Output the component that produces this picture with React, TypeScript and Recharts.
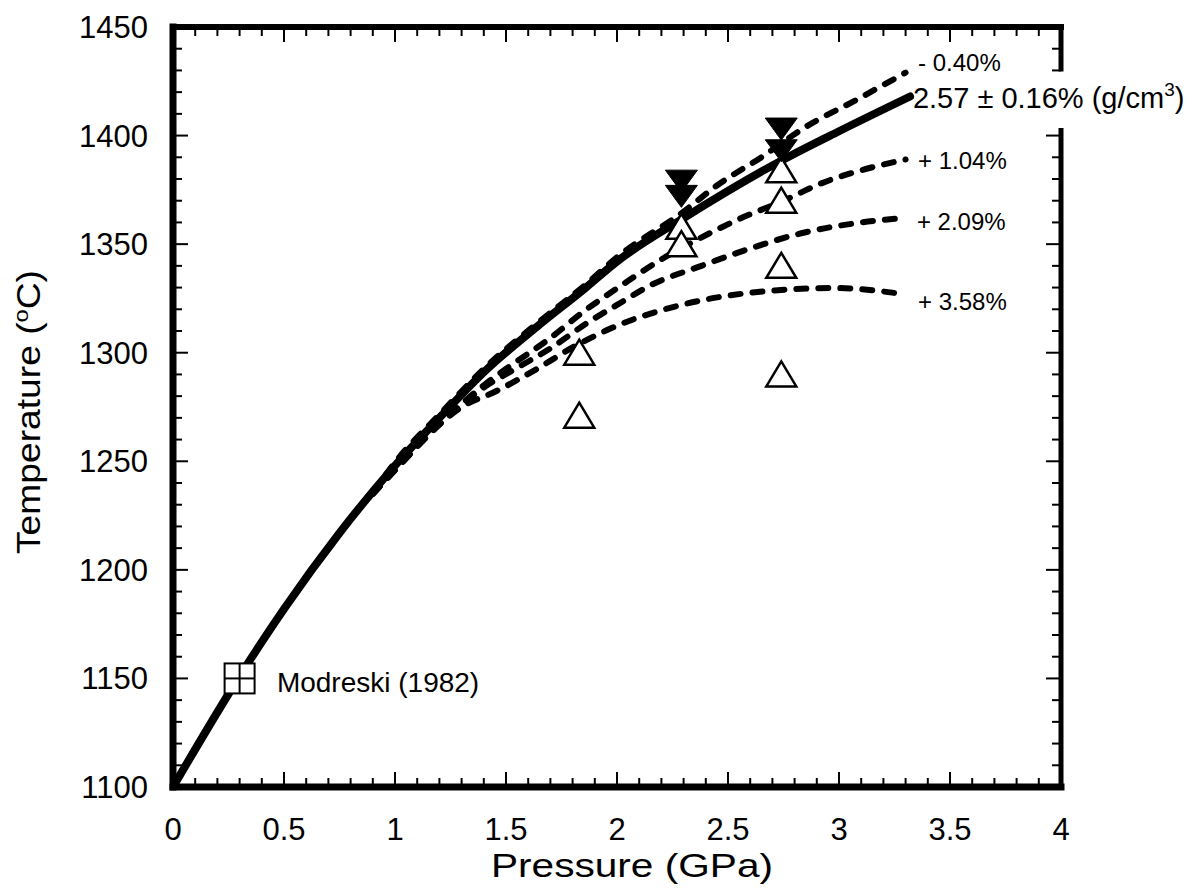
import React from 'react';
import { ComposedChart, Line, Scatter, XAxis, YAxis, ReferenceLine, ReferenceDot } from 'recharts';

const FONT = '"Liberation Sans", Arial, Helvetica, sans-serif';

// ---- tick values ----
const xMajorTicks = [0, 0.5, 1, 1.5, 2, 2.5, 3, 3.5, 4];
const xTicks = [0, 0.1, 0.2, 0.3, 0.4, 0.5, 0.6, 0.7, 0.8, 0.9, 1, 1.1, 1.2, 1.3, 1.4, 1.5, 1.6, 1.7, 1.8, 1.9, 2,
  2.1, 2.2, 2.3, 2.4, 2.5, 2.6, 2.7, 2.8, 2.9, 3, 3.1, 3.2, 3.3, 3.4, 3.5, 3.6, 3.7, 3.8, 3.9, 4];
const yMajorTicks = [1100, 1150, 1200, 1250, 1300, 1350, 1400, 1450];
const yTicks = [1100, 1110, 1120, 1130, 1140, 1150, 1160, 1170, 1180, 1190, 1200, 1210, 1220, 1230, 1240, 1250,
  1260, 1270, 1280, 1290, 1300, 1310, 1320, 1330, 1340, 1350, 1360, 1370, 1380, 1390, 1400, 1410, 1420, 1430, 1440, 1450];
const rightHiddenTicks = [1410, 1420];

// ---- curves (pressure GPa, temperature C) ----
const solidP = [0, 0.3, 0.5, 0.75, 1.0, 1.2, 1.41, 1.64, 1.86, 2.0, 2.3, 2.75, 3.0, 3.32];
const solidT = [1100, 1151, 1182, 1217, 1248, 1270, 1292, 1312, 1330, 1342, 1362, 1389, 1402, 1418];

const minus040P = [0.9, 1.0, 1.2, 1.41, 1.64, 1.86, 2.0, 2.3, 2.45, 2.65, 2.85, 3.07, 3.3];
const minus040T = [1235.5, 1249.5, 1271.5, 1293.5, 1313.5, 1331.5, 1344, 1365, 1377, 1390, 1404, 1416, 1429];

const plus104P = [0.9, 1.0, 1.2, 1.4, 1.52, 1.69, 1.85, 2.02, 2.2, 2.36, 2.56, 2.75, 2.92, 3.1, 3.3];
const plus104T = [1235, 1246, 1267, 1285, 1294, 1306, 1319, 1331, 1343, 1352, 1362, 1370, 1378, 1384, 1389];

const plus209P = [0.9, 1.0, 1.2, 1.4, 1.55, 1.7, 1.87, 2.0, 2.15, 2.38, 2.6, 2.83, 3.1, 3.29];
const plus209T = [1235, 1246, 1267, 1284, 1293, 1302, 1314, 1322, 1331, 1340, 1348, 1355, 1360, 1362];

const plus358P = [0.9, 1.0, 1.2, 1.3, 1.45, 1.63, 1.81, 1.99, 2.29, 2.59, 2.98, 3.29];
const plus358T = [1235, 1246, 1267, 1275, 1282, 1292, 1303, 1312, 1322, 1327.5, 1329.8, 1327];

// ---- experiments ----
const openP = [1.83, 1.83, 2.29, 2.29, 2.74, 2.74, 2.74, 2.74];
const openT = [1300, 1271, 1358, 1350, 1384, 1370, 1340, 1290];
const filledP = [2.29, 2.29, 2.74, 2.74];
const filledT = [1379, 1372, 1403, 1393];
const modreskiP = [0.3];
const modreskiT = [1150];

// ---- annotations ----
const curveLabels = [
  { text: '- 0.40%', p: 3.356, t: 1429.8 },
  { text: '+ 1.04%', p: 3.356, t: 1384.7 },
  { text: '+ 2.09%', p: 3.351, t: 1356.6 },
  { text: '+ 3.58%', p: 3.356, t: 1319.7 },
];
const mainLabel = { text: '2.57 ± 0.16% (g/cm', sup: '3', p: 3.333, t: 1412.8 };
const modreskiLabel = { text: 'Modreski (1982)', p: 0.468, t: 1143.8 };

const zip = (ps: number[], ts: number[]) => ps.map((p, i) => ({ p, t: ts[i] }));

const solidData = zip(solidP, solidT);
const minus040Data = zip(minus040P, minus040T);
const plus104Data = zip(plus104P, plus104T);
const plus209Data = zip(plus209P, plus209T);
const plus358Data = zip(plus358P, plus358T);
const openData = zip(openP, openT);
const filledData = zip(filledP, filledT);
const modreskiData = zip(modreskiP, modreskiT);

const near = (a: number, b: number) => Math.abs(a - b) < 1e-6;
const isMajorX = (v: number) => xMajorTicks.some((m) => near(m, v));
const isMajorY = (v: number) => yMajorTicks.some((m) => near(m, v));

const BottomTick = (props: any) => {
  const { x, y, payload } = props;
  const v = payload.value;
  const major = isMajorX(v);
  return (
    <g>
      <line x1={x} y1={y} x2={x} y2={y - (major ? 15 : 9)} stroke="#000" strokeWidth={2} />
      {major && (
        <text x={x} y={y + 53} textAnchor="middle" fontSize={31} fontFamily={FONT} fill="#000">
          {String(v)}
        </text>
      )}
    </g>
  );
};

const TopTick = (props: any) => {
  const { x, y, payload } = props;
  const major = isMajorX(payload.value);
  return <line x1={x} y1={y} x2={x} y2={y + (major ? 15 : 9)} stroke="#000" strokeWidth={2} />;
};

const LeftTick = (props: any) => {
  const { x, y, payload } = props;
  const v = payload.value;
  const major = isMajorY(v);
  return (
    <g>
      <line x1={x} y1={y} x2={x + (major ? 15 : 9)} y2={y} stroke="#000" strokeWidth={2} />
      {major && (
        <text x={x - 25} y={y + 11} textAnchor="end" fontSize={31} fontFamily={FONT} fill="#000">
          {String(v)}
        </text>
      )}
    </g>
  );
};

const RightTick = (props: any) => {
  const { x, y, payload } = props;
  const v = payload.value;
  if (rightHiddenTicks.some((h) => near(h, v))) return <g />;
  const major = isMajorY(v);
  return <line x1={x} y1={y} x2={x - (major ? 15 : 9)} y2={y} stroke="#000" strokeWidth={2} />;
};

const OpenTri = (props: any) => {
  const { cx, cy } = props;
  return (
    <polygon
      points={`${cx},${cy - 13} ${cx + 15},${cy + 12} ${cx - 15},${cy + 12}`}
      fill="#fff"
      stroke="#000"
      strokeWidth={2.5}
    />
  );
};

const FilledDown = (props: any) => {
  const { cx, cy } = props;
  return (
    <polygon
      points={`${cx - 16},${cy - 11} ${cx + 16},${cy - 11} ${cx},${cy + 11}`}
      fill="#000"
      stroke="#000"
      strokeWidth={1}
    />
  );
};

const SquareCross = (props: any) => {
  const { cx, cy } = props;
  return (
    <g>
      <rect x={cx - 15} y={cy - 15} width={30} height={30} fill="#fff" stroke="#000" strokeWidth={2} />
      <line x1={cx} y1={cy - 15} x2={cx} y2={cy + 15} stroke="#000" strokeWidth={2} />
      <line x1={cx - 15} y1={cy} x2={cx + 15} y2={cy} stroke="#000" strokeWidth={2} />
    </g>
  );
};

const dashedProps = {
  xAxisId: 'b',
  yAxisId: 'l',
  dataKey: 't',
  type: 'monotone' as const,
  stroke: '#000',
  strokeWidth: 6,
  strokeDasharray: '10 12',
  strokeLinecap: 'round' as const,
  dot: false,
  activeDot: false,
  isAnimationActive: false,
};

export default function App() {
  return (
    <div style={{ position: 'absolute', left: 0, top: 0, background: '#fff' }}>
      <ComposedChart width={1197} height={888} margin={{ top: 26, right: 135, bottom: 0, left: 0 }}>
        <XAxis
          xAxisId="b"
          type="number"
          dataKey="p"
          domain={[0, 4]}
          ticks={xTicks}
          interval={0}
          tick={BottomTick}
          tickLine={false}
          tickSize={0}
          tickMargin={0}
          axisLine={false}
          height={101}
          allowDataOverflow
          label={(lp: any) => {
            const vb = lp.viewBox || { x: 173, y: 787, width: 888, height: 101 };
            return (
              <text x={vb.x + vb.width / 2 + 15} y={vb.y + 90} textAnchor="middle" fontSize={33} fontFamily={FONT} fill="#000"
                textLength={282} lengthAdjust="spacingAndGlyphs">
                Pressure (GPa)
              </text>
            );
          }}
        />
        <XAxis
          xAxisId="t"
          orientation="top"
          type="number"
          dataKey="p"
          domain={[0, 4]}
          ticks={xTicks}
          interval={0}
          tick={TopTick}
          tickLine={false}
          tickSize={0}
          tickMargin={0}
          axisLine={false}
          height={1}
          allowDataOverflow
        />
        <YAxis
          yAxisId="l"
          type="number"
          dataKey="t"
          domain={[1100, 1450]}
          ticks={yTicks}
          interval={0}
          tick={LeftTick}
          tickLine={false}
          tickSize={0}
          tickMargin={0}
          axisLine={false}
          width={173}
          allowDataOverflow
          label={() => {
            const cx = 40;
            const cy = 412;
            return (
              <text x={cx} y={cy} textAnchor="middle" fontSize={33} fontFamily={FONT} fill="#000" transform={`rotate(-90 ${cx} ${cy})`}
                textLength={284} lengthAdjust="spacingAndGlyphs">
                Temperature (
                <tspan dy={-12} fontSize={21}>o</tspan>
                <tspan dy={12}>C)</tspan>
              </text>
            );
          }}
        />
        <YAxis
          yAxisId="r"
          orientation="right"
          type="number"
          dataKey="t"
          domain={[1100, 1450]}
          ticks={yTicks}
          interval={0}
          tick={RightTick}
          tickLine={false}
          tickSize={0}
          tickMargin={0}
          axisLine={false}
          width={1}
          allowDataOverflow
        />

        {/* frame */}
        <ReferenceLine xAxisId="b" yAxisId="l" ifOverflow="visible" segment={[{ x: 0, y: 1100 }, { x: 0, y: 1450 }]}
          stroke="#000" strokeWidth={7} strokeLinecap="square" />
        <ReferenceLine xAxisId="b" yAxisId="l" ifOverflow="visible" segment={[{ x: 0, y: 1450 }, { x: 4, y: 1450 }]}
          stroke="#000" strokeWidth={6} strokeLinecap="square" />
        <ReferenceLine xAxisId="b" yAxisId="l" ifOverflow="visible" segment={[{ x: 0, y: 1100 }, { x: 4, y: 1100 }]}
          stroke="#000" strokeWidth={7} strokeLinecap="square" />
        <ReferenceLine xAxisId="b" yAxisId="l" ifOverflow="visible" segment={[{ x: 4, y: 1450 }, { x: 4, y: 1429.5 }]}
          stroke="#000" strokeWidth={5} />
        <ReferenceLine xAxisId="b" yAxisId="l" ifOverflow="visible" segment={[{ x: 4, y: 1403.5 }, { x: 4, y: 1100 }]}
          stroke="#000" strokeWidth={5} />

        <Line {...dashedProps} data={minus040Data} />
        <Line {...dashedProps} data={plus104Data} />
        <Line {...dashedProps} data={plus209Data} />
        <Line {...dashedProps} data={plus358Data} />
        <Line xAxisId="b" yAxisId="l" data={solidData} dataKey="t" type="monotone" stroke="#000" strokeWidth={8}
          strokeLinecap="round" dot={false} activeDot={false} isAnimationActive={false} />

        <Scatter xAxisId="b" yAxisId="l" data={openData} dataKey="t" shape={OpenTri} isAnimationActive={false} />
        <Scatter xAxisId="b" yAxisId="l" data={filledData} dataKey="t" shape={FilledDown} isAnimationActive={false} />
        <Scatter xAxisId="b" yAxisId="l" data={modreskiData} dataKey="t" shape={SquareCross} isAnimationActive={false} />

        {curveLabels.map((l) => (
          <ReferenceDot
            key={l.text}
            xAxisId="b"
            yAxisId="l"
            x={l.p}
            y={l.t}
            r={0}
            ifOverflow="visible"
            shape={(sp: any) => (
              <text x={sp.cx} y={sp.cy} fontSize={24} fontFamily={FONT} fill="#000">
                {l.text}
              </text>
            )}
          />
        ))}
        <ReferenceDot
          xAxisId="b"
          yAxisId="l"
          x={mainLabel.p}
          y={mainLabel.t}
          r={0}
          ifOverflow="visible"
          shape={(sp: any) => (
            <text x={sp.cx} y={sp.cy} fontSize={29} fontFamily={FONT} fill="#000">
              {mainLabel.text}
              <tspan dy={-12} fontSize={19}>{mainLabel.sup}</tspan>
              <tspan dy={12}>)</tspan>
            </text>
          )}
        />
        <ReferenceDot
          xAxisId="b"
          yAxisId="l"
          x={modreskiLabel.p}
          y={modreskiLabel.t}
          r={0}
          ifOverflow="visible"
          shape={(sp: any) => (
            <text x={sp.cx} y={sp.cy} fontSize={28} fontFamily={FONT} fill="#000">
              {modreskiLabel.text}
            </text>
          )}
        />
      </ComposedChart>
    </div>
  );
}
